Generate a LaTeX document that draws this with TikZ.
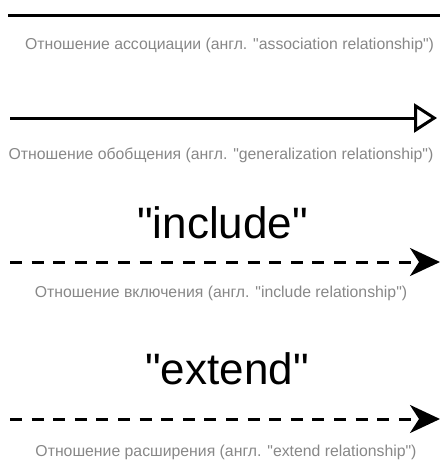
\documentclass[tikz,border=0pt]{standalone}
\usepackage{fontspec}
\setmainfont{Liberation Sans}[Ligatures=TeXOff]
\usetikzlibrary{arrows.meta}
\definecolor{captiongray}{HTML}{878787}
\begin{document}
\begin{tikzpicture}[x=1pt,y=-1pt,
  rel/.style={line width=3pt},
  dashedrel/.style={line width=3pt, dash pattern=on 12pt off 9.6pt},
  openhead/.style={-{Triangle[open, length=23pt, width=29pt]}},
  solidhead/.style={-{Stealth[length=30pt, width=28pt, inset=9pt]}},
  caption/.style={anchor=base, inner sep=0pt, text=captiongray, font=\fontsize{15.8}{16}\selectfont},
  stereo/.style={anchor=base, inner sep=0pt, font=\fontsize{44}{44}\selectfont}]
\useasboundingbox (0,0) rectangle (440,461);

% association
\coordinate (a1) at (8,15);
\coordinate (a2) at (440,15);
\draw[rel] (a1) -- (a2);
\node[caption] (c1) at (229.5,49.5) {Отношение ассоциации (англ. "association relationship")};

% generalization
\coordinate (g1) at (10,118);
\coordinate (g2) at (437,118);
\draw[rel, openhead] (g1) -- (g2);
\node[caption] (c2) at (221,159) {Отношение обобщения (англ. "generalization relationship")};

% include
\node[stereo] (inc) at (222.5,238) {"include"};
\coordinate (i1) at (10,262);
\coordinate (i2) at (440,262);
\draw[dashedrel, solidhead] (i1) -- (i2);
\node[caption] (c3) at (221,297) {Отношение включения (англ. "include relationship")};

% extend
\node[stereo] (ext) at (227,384) {"extend"};
\coordinate (e1) at (10,419);
\coordinate (e2) at (440,419);
\draw[dashedrel, solidhead] (e1) -- (e2);
\node[caption] (c4) at (226,456) {Отношение расширения (англ. "extend relationship")};
\end{tikzpicture}
\end{document}
